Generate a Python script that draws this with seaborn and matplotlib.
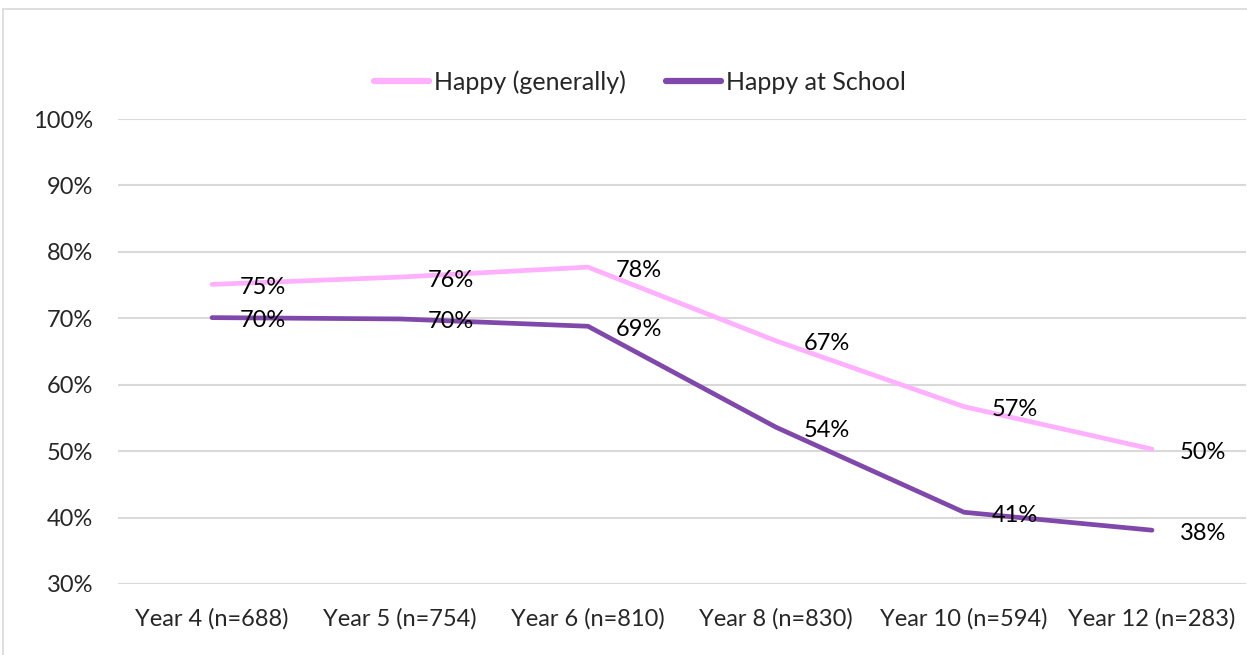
import matplotlib
matplotlib.use("Agg")
import matplotlib.pyplot as plt
import seaborn as sns
import pandas as pd
from matplotlib.lines import Line2D
from matplotlib.patches import Rectangle

categories = ["Year 4 (n=688)", "Year 5 (n=754)", "Year 6 (n=810)",
              "Year 8 (n=830)", "Year 10 (n=594)", "Year 12 (n=283)"]
happy_general = [75.1, 76.2, 77.7, 66.6, 56.7, 50.3]
happy_school = [70.1, 69.9, 68.8, 53.6, 40.8, 38.1]
labels_general = ["75%", "76%", "78%", "67%", "57%", "50%"]
labels_school = ["70%", "70%", "69%", "54%", "41%", "38%"]
series_names = ["Happy (generally)", "Happy at School"]
colors = ["#FFB0FF", "#8048AA"]

sns.set_theme(style="white")
plt.rcParams['font.family'] = ['Lato', 'DejaVu Sans']
FS = 17

df = pd.DataFrame({
    "x": list(range(len(categories))) * 2,
    "value": happy_general + happy_school,
    "series": [series_names[0]] * len(categories) + [series_names[1]] * len(categories),
})

fig = plt.figure(figsize=(12.47, 6.55), dpi=100)
ax = fig.add_axes([118/1247, 1 - 584/655, (1246-118)/1247, (584-119)/655])

sns.lineplot(data=df, x="x", y="value", hue="series", palette=colors,
             linewidth=3.4, ax=ax, legend=False, sort=False)

for i, (v, t) in enumerate(zip(happy_general, labels_general)):
    ax.annotate(t, (i, v), xytext=(28, -3), textcoords="offset pixels",
                ha="left", va="center", fontsize=FS, color="black")
for i, (v, t) in enumerate(zip(happy_school, labels_school)):
    ax.annotate(t, (i, v), xytext=(28, -3), textcoords="offset pixels",
                ha="left", va="center", fontsize=FS, color="black")

ax.set_xlim(-0.5, len(categories) - 0.5)
ax.set_ylim(30, 100)
ax.set_yticks(range(30, 101, 10))
ax.set_yticklabels([f"{v}%" for v in range(30, 101, 10)], fontsize=FS)
ax.set_xticks(range(len(categories)))
ax.set_xticklabels(categories, fontsize=FS)
ax.tick_params(axis="x", length=0, pad=17)
ax.tick_params(axis="y", length=0, pad=18)
ax.set_xlabel("")
ax.set_ylabel("")
ax.grid(axis="y", color="#D9D9D9", linewidth=1.5)
ax.set_axisbelow(True)
for s in ax.spines.values():
    s.set_visible(False)

handles = [Line2D([0], [0], color=c, linewidth=4.5, solid_capstyle="round") for c in colors]
fig.legend(handles, series_names, loc="center", bbox_to_anchor=(640/1247, 1 - 82/655),
           ncol=2, frameon=False, fontsize=18, handlelength=2.2, handletextpad=0.2,
           columnspacing=1.6)

fig.patches.append(Rectangle((3/1247, -0.1), 1.2, 1 - 9/655 + 0.1, transform=fig.transFigure,
                             fill=False, edgecolor="#D9D9D9", linewidth=1.2))

fig.savefig("out.png", dpi=100)
